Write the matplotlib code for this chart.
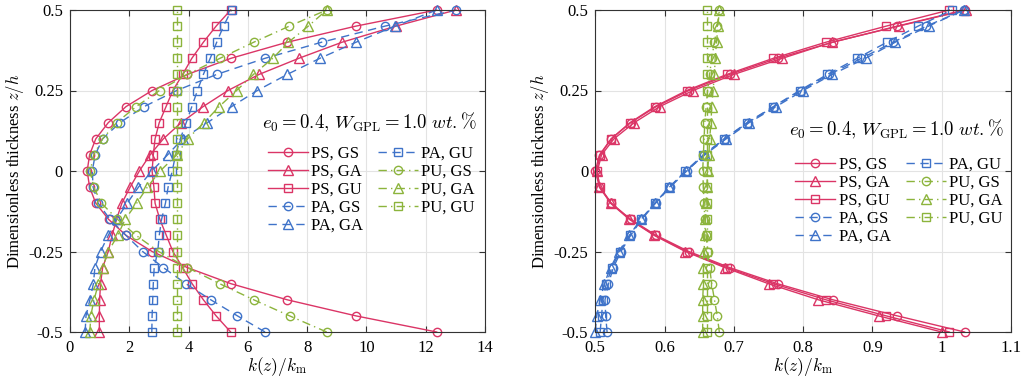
import matplotlib
matplotlib.use("Agg")
import matplotlib.pyplot as plt

# ---------------- data ----------------
z = [-0.5, -0.45, -0.4, -0.35, -0.3, -0.25, -0.2, -0.15, -0.1, -0.05, 0.0,
     0.05, 0.1, 0.15, 0.2, 0.25, 0.3, 0.35, 0.4, 0.45, 0.5]

series_names = ["PS, GS", "PS, GA", "PS, GU", "PA, GS", "PA, GA",
                "PA, GU", "PU, GS", "PU, GA", "PU, GU"]

# left panel
L_PS_GS = [12.37, 9.65, 7.33, 5.43, 3.96, 2.77, 1.89, 1.30, 0.87, 0.66, 0.58, 0.66, 0.87, 1.29, 1.89, 2.77, 3.96, 5.43, 7.33, 9.65, 12.37]
L_PS_GA = [0.99, 0.99, 1.00, 1.03, 1.10, 1.29, 1.42, 1.57, 1.75, 2.03, 2.34, 2.70, 3.15, 3.75, 4.49, 5.33, 6.38, 7.72, 9.18, 11.00, 13.02]
L_PS_GU = [5.42, 4.93, 4.50, 4.12, 3.80, 3.47, 3.25, 3.03, 2.87, 2.83, 2.77, 2.81, 2.87, 3.01, 3.24, 3.47, 3.80, 4.11, 4.50, 4.93, 5.42]
L_PA_GS = [6.58, 5.65, 4.75, 3.91, 3.15, 2.45, 1.89, 1.35, 0.95, 0.78, 0.75, 0.85, 1.10, 1.68, 2.50, 3.60, 4.95, 6.58, 8.49, 10.63, 13.02]
L_PA_GA = [0.51, 0.54, 0.67, 0.79, 0.84, 1.03, 1.29, 1.57, 1.93, 2.31, 2.76, 3.29, 3.80, 4.63, 5.45, 6.32, 7.33, 8.43, 9.65, 10.97, 12.37]
L_PA_GU = [2.76, 2.77, 2.79, 2.81, 2.84, 2.96, 3.01, 3.09, 3.22, 3.31, 3.45, 3.56, 3.72, 3.92, 4.11, 4.30, 4.50, 4.73, 4.95, 5.18, 5.45]
L_PU_GS = [8.66, 7.41, 6.20, 5.05, 3.96, 2.99, 2.23, 1.60, 1.06, 0.80, 0.68, 0.80, 1.10, 1.57, 2.23, 3.02, 3.96, 5.06, 6.20, 7.40, 8.66]
L_PU_GA = [0.67, 0.70, 0.81, 0.96, 1.10, 1.29, 1.61, 1.86, 2.25, 2.61, 3.04, 3.60, 3.97, 4.52, 5.03, 5.62, 6.19, 6.84, 7.37, 8.04, 8.66]
L_PU_GU = [3.6, 3.6, 3.6, 3.6, 3.6, 3.6, 3.6, 3.6, 3.6, 3.6, 3.6, 3.6, 3.6, 3.6, 3.6, 3.6, 3.6, 3.6, 3.6, 3.6, 3.6]

# right panel
R_PS_GS = [1.033, 0.936, 0.843, 0.763, 0.694, 0.635, 0.588, 0.551, 0.523, 0.506, 0.500, 0.506, 0.523, 0.551, 0.588, 0.635, 0.694, 0.763, 0.843, 0.936, 1.033]
R_PS_GA = [1.000, 0.909, 0.822, 0.750, 0.687, 0.630, 0.585, 0.549, 0.522, 0.506, 0.503, 0.509, 0.527, 0.556, 0.593, 0.641, 0.700, 0.770, 0.842, 0.938, 1.035]
R_PS_GU = [1.011, 0.920, 0.833, 0.757, 0.690, 0.632, 0.586, 0.550, 0.523, 0.507, 0.502, 0.507, 0.523, 0.550, 0.586, 0.632, 0.690, 0.757, 0.833, 0.920, 1.011]
R_PA_GS = [0.517, 0.515, 0.514, 0.519, 0.526, 0.537, 0.551, 0.567, 0.587, 0.608, 0.632, 0.657, 0.687, 0.720, 0.758, 0.797, 0.838, 0.884, 0.930, 0.978, 1.032]
R_PA_GA = [0.500, 0.502, 0.507, 0.513, 0.522, 0.534, 0.549, 0.566, 0.586, 0.607, 0.631, 0.658, 0.689, 0.722, 0.761, 0.800, 0.842, 0.890, 0.933, 0.981, 1.032]
R_PA_GU = [0.507, 0.509, 0.511, 0.516, 0.524, 0.535, 0.550, 0.566, 0.586, 0.607, 0.630, 0.656, 0.686, 0.719, 0.757, 0.795, 0.835, 0.878, 0.921, 0.966, 1.015]
R_PU_GS = [0.679, 0.676, 0.672, 0.668, 0.665, 0.662, 0.660, 0.658, 0.657, 0.656, 0.655, 0.656, 0.657, 0.658, 0.660, 0.662, 0.665, 0.668, 0.672, 0.676, 0.679]
R_PU_GA = [0.655, 0.655, 0.655, 0.656, 0.656, 0.657, 0.658, 0.659, 0.660, 0.661, 0.662, 0.664, 0.665, 0.667, 0.668, 0.670, 0.672, 0.673, 0.675, 0.677, 0.679]
R_PU_GU = [0.661, 0.661, 0.661, 0.661, 0.661, 0.661, 0.661, 0.661, 0.661, 0.661, 0.661, 0.661, 0.661, 0.661, 0.661, 0.661, 0.661, 0.661, 0.661, 0.661, 0.661]

left_series = [L_PS_GS, L_PS_GA, L_PS_GU, L_PA_GS, L_PA_GA, L_PA_GU, L_PU_GS, L_PU_GA, L_PU_GU]
right_series = [R_PS_GS, R_PS_GA, R_PS_GU, R_PA_GS, R_PA_GA, R_PA_GU, R_PU_GS, R_PU_GA, R_PU_GU]

y_ticks = [-0.5, -0.25, 0, 0.25, 0.5]
y_ticklabels = ["-0.5", "-0.25", "0", "0.25", "0.5"]
left_xticks = [0, 2, 4, 6, 8, 10, 12, 14]
left_xticklabels = ["0", "2", "4", "6", "8", "10", "12", "14"]
right_xticks = [0.5, 0.6, 0.7, 0.8, 0.9, 1.0, 1.1]
right_xticklabels = ["0.5", "0.6", "0.7", "0.8", "0.9", "1", "1.1"]

# ---------------- style ----------------
RED = "#DB3566"
BLUE = "#3F73C9"
GREEN = "#8CB43C"
colors = [RED, RED, RED, BLUE, BLUE, BLUE, GREEN, GREEN, GREEN]
markers = ["o", "^", "s", "o", "^", "s", "o", "^", "s"]
dash_solid = "-"
dash_da = (0, (6, 4))
dash_dd = (0, (6, 3, 1, 3))
styles = [dash_solid] * 3 + [dash_da] * 3 + [dash_dd] * 3

plt.rcParams["font.family"] = ["Liberation Serif", "DejaVu Serif"]
plt.rcParams["mathtext.fontset"] = "cm"
plt.rcParams["font.size"] = 11

fig = plt.figure(figsize=(10.24, 3.81), dpi=100)
axL = fig.add_axes([70 / 1024, 49 / 381, 415 / 1024, 322 / 381])
axR = fig.add_axes([595.3 / 1024, 49 / 381, 415.7 / 1024, 322 / 381])

def draw(ax, data, xlim, xticks, xticklabels, ann_xy, leg_anchor):
    for vals, name, c, m, ls in zip(data, series_names, colors, markers, styles):
        ms = 6.5 if m == "^" else 6
        ax.plot(vals, z, color=c, linestyle=ls, linewidth=1.0, marker=m,
                markersize=ms, markerfacecolor="none", markeredgecolor=c,
                markeredgewidth=1.0, label=name, clip_on=False)
    ax.set_xlim(*xlim)
    ax.set_ylim(-0.5, 0.5)
    ax.set_xticks(xticks)
    ax.set_xticklabels(xticklabels)
    ax.set_yticks(y_ticks)
    ax.set_yticklabels(y_ticklabels)
    ax.grid(True, color="#E3E3E3", linewidth=0.8)
    ax.set_axisbelow(True)
    ax.tick_params(direction="in", top=True, right=True, length=4,
                   labelsize=12, color="#333333")
    ax.tick_params(axis="x", pad=6)
    ax.tick_params(axis="y", pad=5)
    for sp in ax.spines.values():
        sp.set_color("#333333")
        sp.set_linewidth(0.8)
    ax.set_xlabel(r"$k(z)/k_{\mathrm{m}}$", fontsize=12.5, labelpad=-1)
    ax.set_ylabel(r"Dimensionless thickness $z/h$", fontsize=12, labelpad=2)
    ax.text(ann_xy[0], ann_xy[1],
            r"$e_0 = 0.4,\, W_{\mathrm{GPL}} = 1.0\ wt.\%$",
            transform=ax.transAxes, fontsize=13.5, ha="left", va="center")
    leg = ax.legend(ncol=2, loc="upper left", bbox_to_anchor=leg_anchor,
                    frameon=False, fontsize=12, handlelength=2.4,
                    handletextpad=0.2, labelspacing=0.12, columnspacing=0.9,
                    borderaxespad=0.0)
    return leg

draw(axL, left_series, (0, 14), left_xticks, left_xticklabels,
     (0.462, 0.65), (0.46, 0.598))
draw(axR, right_series, (0.5, 1.1), right_xticks, right_xticklabels,
     (0.467, 0.63), (0.465, 0.565))

fig.savefig("out.png", dpi=100)
